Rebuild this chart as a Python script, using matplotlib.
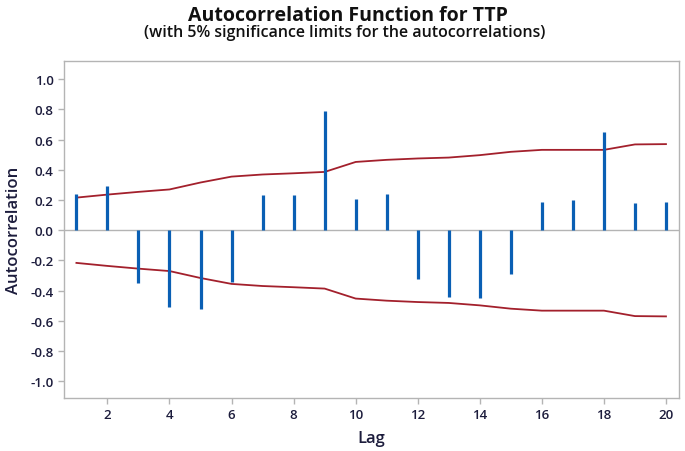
import matplotlib
matplotlib.use("Agg")
import matplotlib.pyplot as plt
import numpy as np

lags = list(range(1, 21))
acf = [0.24, 0.29, -0.35, -0.51, -0.52, -0.34, 0.23, 0.23, 0.79, 0.205,
       0.24, -0.325, -0.44, -0.45, -0.29, 0.19, 0.20, 0.65, 0.18, 0.19]
limit = [0.216, 0.236, 0.254, 0.27, 0.316, 0.355, 0.369, 0.377, 0.386, 0.452,
         0.466, 0.475, 0.481, 0.497, 0.519, 0.532, 0.532, 0.532, 0.568, 0.57]
xticks = [2, 4, 6, 8, 10, 12, 14, 16, 18, 20]
yticks = [-1.0, -0.8, -0.6, -0.4, -0.2, 0.0, 0.2, 0.4, 0.6, 0.8, 1.0]

plt.rcParams['font.family'] = ['Open Sans', 'DejaVu Sans']

fig = plt.figure(figsize=(6.85, 4.52), dpi=100)
ax = fig.add_axes([64/685, 1-399/452, (679-64)/685, (399-62)/452])

bar_color = '#0a5fb4'
lim_color = '#a3202c'
spine_color = '#b4b4b4'
text_color = '#1c1c3c'

ax.axhline(0, color=spine_color, lw=1.0, zorder=1)
ax.vlines(lags, 0, acf, color=bar_color, lw=2.3, zorder=3)
ax.plot(lags, limit, color=lim_color, lw=1.3, zorder=2)
ax.plot(lags, [-v for v in limit], color=lim_color, lw=1.3, zorder=2)

ax.set_xlim(0.6, 20.42)
ax.set_ylim(-1.11, 1.12)
ax.set_xticks(xticks)
ax.set_yticks(yticks)
ax.set_yticklabels([f"{v:.1f}" for v in yticks])

for s in ax.spines.values():
    s.set_color(spine_color)
    s.set_linewidth(1.0)

ax.tick_params(axis='both', colors=spine_color, length=4, width=1.0,
               labelcolor=text_color, labelsize=9.5)
for lab in ax.get_xticklabels() + ax.get_yticklabels():
    lab.set_fontweight('semibold')

ax.set_xlabel('Lag', fontsize=12, fontweight='semibold', color=text_color, labelpad=6)
ax.set_ylabel('Autocorrelation', fontsize=12, fontweight='semibold', color=text_color, labelpad=6)

fig.text(348/685, 1-21/452, 'Autocorrelation Function for TTP', ha='center', va='baseline',
         fontsize=14, fontweight='bold', color='#111111')
fig.text(345/685, 1-37/452, '(with 5% significance limits for the autocorrelations)', ha='center',
         va='baseline', fontsize=11.5, fontweight='semibold', color='#111111')

fig.savefig('out.png', dpi=100)
